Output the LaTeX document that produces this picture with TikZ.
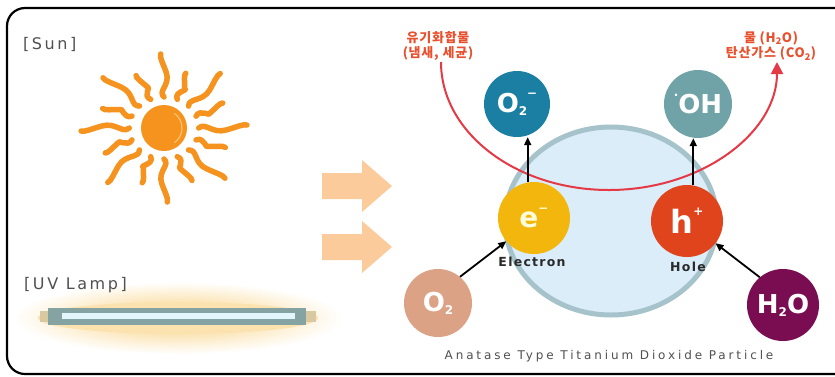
\documentclass[tikz,border=0pt]{standalone}
\usepackage{fontspec}
\setmainfont{DejaVu Sans}
\newfontfamily\kofont{Noto Sans CJK KR}[LetterSpace=6]
\newfontfamily\tagfont{DejaVu Sans}[LetterSpace=16]
\newfontfamily\capfont{DejaVu Sans}[LetterSpace=24]
\newfontfamily\subfont{DejaVu Sans}[LetterSpace=10]
\usetikzlibrary{arrows.meta}

\definecolor{sunorange}{HTML}{F5931E}
\definecolor{sunlight}{HTML}{FBC36E}
\definecolor{bigarrow}{HTML}{FCCB9C}
\definecolor{labelgray}{HTML}{505050}
\definecolor{lampglow}{HTML}{F9CF7A}
\definecolor{tube}{HTML}{86A3A3}
\definecolor{tubecore}{HTML}{E2F6FB}
\definecolor{tubecap}{HTML}{D9C9A0}
\definecolor{particle}{HTML}{DBEDF9}
\definecolor{particleedge}{HTML}{A6C3CB}
\definecolor{arcred}{HTML}{E63946}
\definecolor{korean}{HTML}{E8502E}
\definecolor{superox}{HTML}{1B7FA3}
\definecolor{hydroxyl}{HTML}{6FA3A8}
\definecolor{electron}{HTML}{F2B60C}
\definecolor{hole}{HTML}{E0441C}
\definecolor{oxygen}{HTML}{DCA286}
\definecolor{water}{HTML}{7A0C52}
\definecolor{darktext}{HTML}{2A2A2A}

% small raised / lowered marks inside the species circles
\newcommand\chup[1]{\raisebox{0.55em}{\fontsize{12}{12}\selectfont #1}}
\newcommand\chdn[1]{\raisebox{-0.12em}{\fontsize{12}{12}\selectfont #1}}

\tikzset{
  sunray/.style={draw=sunorange, line width=5.5pt, line cap=round, line join=round},
  tag/.style={text=labelgray, font=\tagfont\fontsize{16}{16}\selectfont, anchor=west, inner sep=0pt},
  kolabel/.style={text=korean, font=\kofont\bfseries\fontsize{13}{15.5}\selectfont, align=center, inner sep=0pt},
  species/.style={circle, inner sep=0pt, text=white, font=\bfseries\fontsize{26}{26}\selectfont},
  sublabel/.style={text=darktext, font=\subfont\bfseries\fontsize{12.5}{12.5}\selectfont, inner sep=0pt},
  react/.style={draw=black, line width=1.8pt, -{Triangle[length=8pt,width=7pt]}},
}

\begin{document}
\begin{tikzpicture}[x=1pt,y=-1pt]
\useasboundingbox (0,0) rectangle (835,376);
\fill[white] (0,0) rectangle (835,376);

% outer frame
\draw[line width=2.2pt, rounded corners=18pt] (7,8) rectangle (852,374);

% ---- left panel: light sources ----
% sun: flame-like rays around a disc
\begin{scope}[shift={(164,128)}, xscale=1.12]
  \foreach \a [count=\i] in {0,22.5,...,337.5}{
    \pgfmathsetmacro\L{mod(\i,2)==0 ? 58 : 74}
    \draw[sunray, rotate=\a] (31,0) .. controls (37,-6) and (43,6) .. ({\L*0.75},2)
          .. controls ({\L*0.88},-1) and ({\L*0.95},-4) .. (\L,-3);
  }
\end{scope}
\fill[sunorange] (164,128) circle (23);
\draw[sunlight, line width=1.2pt] (164,128) ++(-55:18) arc[start angle=-55, end angle=55, radius=18];

% UV lamp with its glow
\shade[inner color=lampglow, outer color=white] (178,318) ellipse (165 and 36);
\fill[lampglow!60!white] (178,318) ellipse (140 and 16);
\fill[tubecap] (40,311) rectangle (316,322);
\fill[tube] (48,308) rectangle (306,325);
\fill[tubecore] (62,313) rectangle (295,319);

\node[tag] (suntag) at (23,44) {[Sun]};
\node[tag] (lamptag) at (24,285) {[UV Lamp]};

% light arrows
\fill[bigarrow] (322,173) -- (362,173) -- (362,160) -- (392,186) -- (362,212) -- (362,199) -- (322,199) -- cycle;
\fill[bigarrow] (322,234) -- (362,234) -- (362,221) -- (392,247) -- (362,273) -- (362,260) -- (322,260) -- cycle;

% ---- right panel: photocatalysis ----
\draw[fill=particle, draw=particleedge, line width=5pt] (611,221) ellipse (106 and 94);

\node[kolabel] (organic) at (438,46) {유기화합물\\(냄새, 세균)};
\node[kolabel] (product) at (771,46) {물 (H\textsubscript{2}O)\\탄산가스 (CO\textsubscript{2})};

\coordinate (arcS) at (441,62);
\draw[arcred, line width=2pt, -{Triangle[length=12pt,width=12pt]}]
  (arcS) arc[start angle=180, end angle=0, x radius=168, y radius=128];

\node[species, fill=superox, minimum size=66pt] (o2m) at (517,104) {O\chdn{2}\chup{−}};
\node[species, fill=hydroxyl, minimum size=68pt] (oh) at (698,104) {\chup{·}OH};
\node[species, fill=electron, minimum size=72pt, text=white!85!yellow, font=\bfseries\fontsize{28}{28}\selectfont] (e) at (534,218) {e\chup{−}};
\node[species, fill=hole, minimum size=72pt, font=\bfseries\fontsize{32}{32}\selectfont] (h) at (687,221) {h\chup{+}};
\node[species, fill=oxygen, minimum size=68pt] (o2) at (438,303) {O\chdn{2}};
\node[species, fill=water, minimum size=72pt] (h2o) at (783,305) {H\chdn{2}O};

\node[sublabel] (elabel) at (532,262) {Electron};
\node[sublabel] (hlabel) at (688,267) {Hole};

\draw[react] (e.100) -- (e.100 |- o2m.south);
\draw[react] (h.80) -- (h.80 |- oh.south);
\draw[react] (o2.50) -- (e.220);
\draw[react] (h2o.130) -- (h.322);

\node[text=labelgray, font=\capfont\fontsize{12}{12}\selectfont] (caption) at (609,356) {Anatase Type Titanium Dioxide Particle};
\end{tikzpicture}
\end{document}
